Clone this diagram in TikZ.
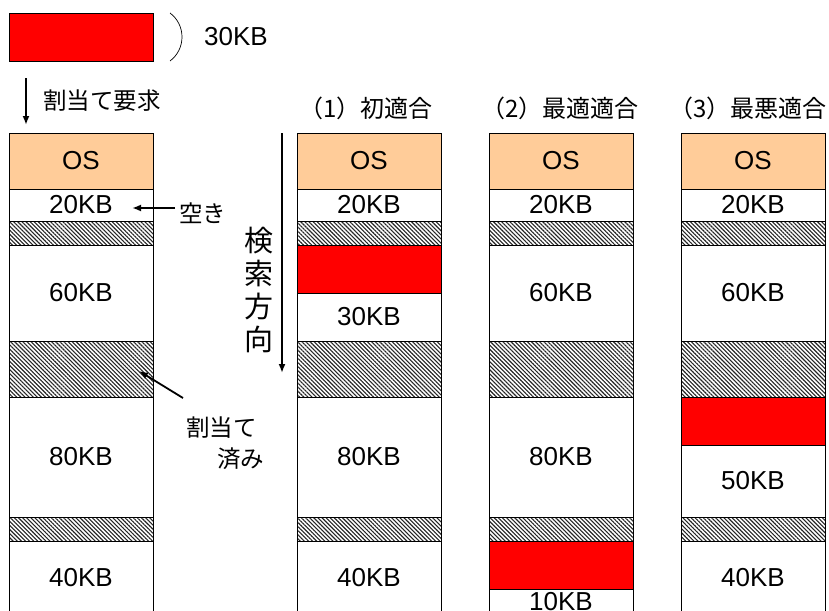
\documentclass[tikz,border=0pt]{standalone}
\usepackage{fontspec}
\setmainfont{Liberation Sans}
\newfontfamily\cjk{Noto Sans CJK JP}
\usetikzlibrary{patterns.meta,arrows.meta}
\newcommand\mkblk[6]{\node[#5, minimum height=#4pt] (#1) at (#2,#3) {#6};}
\begin{document}
\begin{tikzpicture}[x=1pt,y=-1pt,
  blk/.style={draw, line width=0.8pt, minimum width=144pt, inner sep=0pt, outer sep=0pt,
     anchor=north west, font=\fontsize{26}{30}\selectfont},
  freeb/.style={blk, fill=white},
  osb/.style={blk, fill=osc},
  redb/.style={blk, fill=red},
  hatchb/.style={blk, pattern={Lines[angle=-45,distance=2.9pt,line width=1.1pt]}, pattern color=black!85},
  lbl/.style={font=\fontsize{26}{30}\selectfont, inner sep=0pt},
  jlbl/.style={font=\cjk\fontsize{23.5}{31}\selectfont, inner sep=0pt},
  hlbl/.style={font=\cjk\fontsize{24}{31}\selectfont, inner sep=0pt},
  arr/.style={line width=1.8pt, -{Latex[length=9pt,width=7pt]}}
]
\definecolor{osc}{HTML}{FFCC99}
\clip (0,0) rectangle (829,610);
\fill[white] (0,0) rectangle (829,610);

% request block
\node[redb, minimum height=48pt] (req) at (9,13) {};
\draw[line width=0.7pt] (170,13) .. controls (186,25) and (186,49) .. (170,61);
\node[lbl, anchor=west] (reqsize) at (204,37) {30KB};
\coordinate (reqa) at (26,78);
\coordinate (reqb) at (26,125);
\draw[arr] (reqa) -- (reqb);
\node[jlbl, anchor=west] (reqtxt) at (43,101) {割当て要求};

% headers
\node[hlbl] (h1) at (366,108) {（1）初適合};
\node[hlbl] (h2) at (560,108) {（2）最適適合};
\node[hlbl] (h3) at (748,108) {（3）最悪適合};

% column 1
\mkblk{aos}{9}{133}{56}{osb}{OS}
\mkblk{a20}{9}{189}{32}{freeb}{20KB}
\mkblk{ah1}{9}{221}{24}{hatchb}{}
\mkblk{a60}{9}{245}{96}{freeb}{60KB}
\mkblk{ah2}{9}{341}{56}{hatchb}{}
\mkblk{a80}{9}{397}{120}{freeb}{80KB}
\mkblk{ah3}{9}{517}{24}{hatchb}{}
\mkblk{a40}{9}{541}{75}{freeb}{}
\node[lbl] (a40t) at (81,578) {40KB};

% column 2
\mkblk{bos}{297}{133}{56}{osb}{OS}
\mkblk{b20}{297}{189}{32}{freeb}{20KB}
\mkblk{bh1}{297}{221}{24}{hatchb}{}
\mkblk{bred}{297}{245}{48}{redb}{}
\mkblk{b30}{297}{293}{48}{freeb}{30KB}
\mkblk{bh2}{297}{341}{56}{hatchb}{}
\mkblk{b80}{297}{397}{120}{freeb}{80KB}
\mkblk{bh3}{297}{517}{24}{hatchb}{}
\mkblk{b40}{297}{541}{75}{freeb}{}
\node[lbl] (b40t) at (369,578) {40KB};

% column 3
\mkblk{cos}{489}{133}{56}{osb}{OS}
\mkblk{c20}{489}{189}{32}{freeb}{20KB}
\mkblk{ch1}{489}{221}{24}{hatchb}{}
\mkblk{c60}{489}{245}{96}{freeb}{60KB}
\mkblk{ch2}{489}{341}{56}{hatchb}{}
\mkblk{c80}{489}{397}{120}{freeb}{80KB}
\mkblk{ch3}{489}{517}{24}{hatchb}{}
\mkblk{cred}{489}{541}{48}{redb}{}
\mkblk{c10}{489}{589}{40}{freeb}{}
\node[lbl] (c10t) at (561,602) {10KB};

% column 4
\mkblk{dos}{681}{133}{56}{osb}{OS}
\mkblk{d20}{681}{189}{32}{freeb}{20KB}
\mkblk{dh1}{681}{221}{24}{hatchb}{}
\mkblk{d60}{681}{245}{96}{freeb}{60KB}
\mkblk{dh2}{681}{341}{56}{hatchb}{}
\mkblk{dred}{681}{397}{48}{redb}{}
\mkblk{d50}{681}{445}{72}{freeb}{50KB}
\mkblk{dh3}{681}{517}{24}{hatchb}{}
\mkblk{d40}{681}{541}{75}{freeb}{}
\node[lbl] (d40t) at (753,578) {40KB};

% annotations
\node[jlbl, anchor=west] (aki) at (179,213) {空き};
\coordinate (akitip) at (132,208);
\coordinate (akitail) at (175,208);
\draw[arr] (akitail) -- (akitip);

\node[jlbl, anchor=west] (wari1) at (186,428) {割当て};
\node[jlbl, anchor=west] (wari2) at (217,459) {済み};
\coordinate (waritail) at (183,398);
\coordinate (waritip) at (139,371);
\draw[arr] (waritail) -- (waritip);

% search direction
\coordinate (srchtop) at (282,133);
\coordinate (srchbot) at (282,373);
\draw[arr] (srchtop) -- (srchbot);
\node[font=\cjk\fontsize{29}{33}\selectfont, align=center, inner sep=0pt] (srch) at (259,290) {検\\索\\方\\向};
\end{tikzpicture}
\end{document}
